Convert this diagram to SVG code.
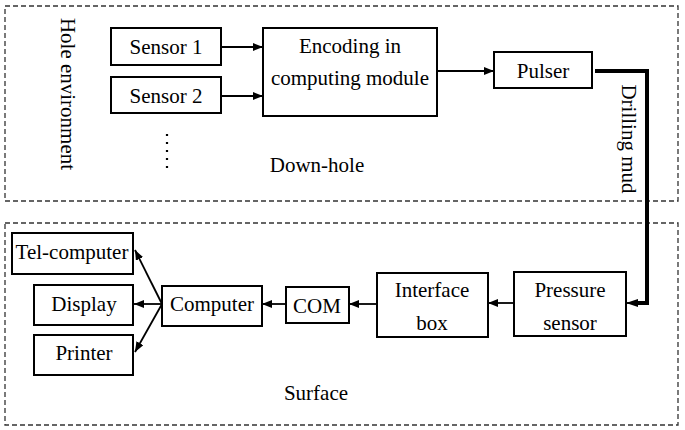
<svg xmlns="http://www.w3.org/2000/svg" width="685" height="430" viewBox="0 0 685 430" font-family="'Liberation Serif', 'DejaVu Serif', serif">
<style>
text{font-family:'Liberation Serif','DejaVu Serif',serif;font-size:21px;fill:#000}
.box{fill:#fff;stroke:#000;stroke-width:2}
.area{fill:none;stroke:#333;stroke-width:1.3;stroke-dasharray:5,3}
.c{fill:none;stroke:#000;stroke-width:1.8}
.thick{fill:none;stroke:#000;stroke-width:4}
</style>
<defs>
<marker id="ah" viewBox="0 0 10 8" refX="10" refY="4" markerWidth="10" markerHeight="8" markerUnits="userSpaceOnUse" orient="auto"><path d="M0,0L10,4L0,8z" fill="#000"/></marker>
<marker id="ahb" viewBox="0 0 12 8" refX="12" refY="4" markerWidth="12" markerHeight="8" markerUnits="userSpaceOnUse" orient="auto"><path d="M0,0L12,4L0,8z" fill="#000"/></marker>
</defs>
<g id="areas">
<rect class="area" x="5" y="6" width="673" height="195"/>
<rect class="area" x="5" y="223" width="673" height="202"/>
<text transform="translate(61,94) rotate(90)" text-anchor="middle">Hole environment</text>
<text x="317" y="172" text-anchor="middle">Down-hole</text>
<text x="316" y="400" text-anchor="middle">Surface</text>
<text transform="translate(622,139) rotate(90)" text-anchor="middle">Drilling mud</text>
</g>
<g id="dots">
<path d="M167,134v2M167,142v2M167,150v2M167,158v2M167,166v2" stroke="#000" stroke-width="2.2"/>
</g>
<g id="sensor1"><rect class="box" x="111" y="28" width="110" height="37"/><text x="166" y="54" text-anchor="middle">Sensor 1</text></g>
<g id="sensor2"><rect class="box" x="111" y="77" width="110" height="36"/><text x="166" y="103" text-anchor="middle">Sensor 2</text></g>
<g id="encoding"><rect class="box" x="263" y="28" width="174" height="88"/><text x="350" y="53" text-anchor="middle">Encoding in</text><text x="350" y="85" text-anchor="middle">computing module</text></g>
<g id="pulser"><rect class="box" x="494" y="52" width="98" height="36"/><text x="543" y="78" text-anchor="middle">Pulser</text></g>
<g id="pressure"><rect class="box" x="514" y="272" width="112" height="64"/><text x="570" y="297" text-anchor="middle">Pressure</text><text x="570" y="330" text-anchor="middle">sensor</text></g>
<g id="interface"><rect class="box" x="377" y="273" width="111" height="64"/><text x="432" y="297" text-anchor="middle">Interface</text><text x="432" y="330" text-anchor="middle">box</text></g>
<g id="com"><rect class="box" x="286" y="287" width="63" height="36"/><text x="317" y="313" text-anchor="middle">COM</text></g>
<g id="computer"><rect class="box" x="162" y="286" width="100" height="40"/><text x="212" y="311" text-anchor="middle">Computer</text></g>
<g id="telcomputer"><rect class="box" x="12" y="233" width="121" height="41"/><text x="72" y="259" text-anchor="middle">Tel-computer</text></g>
<g id="display"><rect class="box" x="34" y="285" width="99" height="40"/><text x="84" y="311" text-anchor="middle">Display</text></g>
<g id="printer"><rect class="box" x="34" y="335" width="99" height="40"/><text x="84" y="360" text-anchor="middle">Printer</text></g>
<g id="connectors">
<line class="c" x1="221" y1="47" x2="263" y2="47" marker-end="url(#ah)"/>
<line class="c" x1="221" y1="96" x2="263" y2="96" marker-end="url(#ah)"/>
<line class="c" x1="437" y1="71" x2="494" y2="71" marker-end="url(#ah)"/>
<path class="thick" d="M595,71H647V303H638"/>
<line class="c" x1="640" y1="303" x2="626" y2="303" marker-end="url(#ahb)"/>
<line class="c" x1="514" y1="303" x2="488" y2="303" marker-end="url(#ah)"/>
<line class="c" x1="377" y1="304" x2="349" y2="304" marker-end="url(#ah)"/>
<line class="c" x1="286" y1="304" x2="262" y2="304" marker-end="url(#ah)"/>
<line class="c" x1="162" y1="304" x2="135" y2="250" marker-end="url(#ah)"/>
<line class="c" x1="162" y1="304" x2="134" y2="304" marker-end="url(#ah)"/>
<line class="c" x1="162" y1="304" x2="135" y2="352" marker-end="url(#ah)"/>
</g>
</svg>
